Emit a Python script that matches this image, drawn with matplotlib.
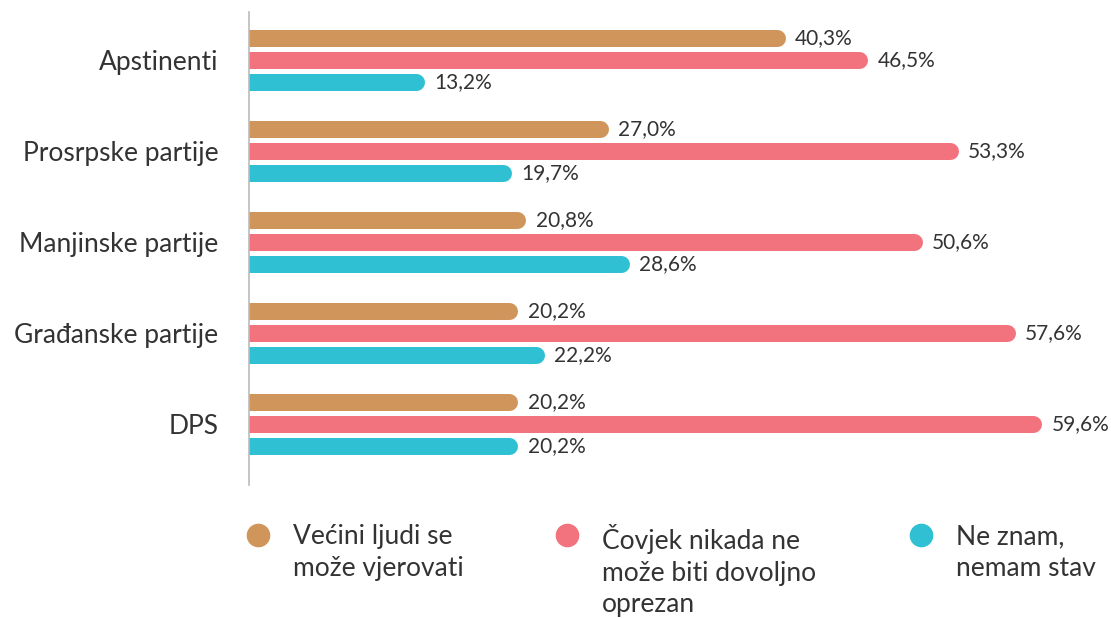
import matplotlib
matplotlib.use('Agg')
import matplotlib.pyplot as plt
from matplotlib.lines import Line2D
import numpy as np

plt.rcParams['font.family'] = ['Lato', 'DejaVu Sans']

# Data
categories = ['Apstinenti', 'Prosrpske partije', 'Manjinske partije', 'Građanske partije', 'DPS']
series_names = ['Većini ljudi se\nmože vjerovati',
                'Čovjek nikada ne\nmože biti dovoljno\noprezan',
                'Ne znam,\nnemam stav']
trust = [40.3, 27.0, 20.8, 20.2, 20.2]
careful = [46.5, 53.3, 50.6, 57.6, 59.6]
dont_know = [13.2, 19.7, 28.6, 22.2, 20.2]
colors = ['#D0955A', '#F2737E', '#2FC1D3']
text_col = '#333333'

W, H = 1111, 618
fig = plt.figure(figsize=(W / 100, H / 100), dpi=100)
ax = fig.add_axes([249 / W, 1 - 485 / H, 1 - 249 / W, (485 - 12) / H])

xmax = 64.8
px_per_unit = (W - 249) / xmax
bar_px = 17
cap = (bar_px / 2) / px_per_unit  # round cap radius in data units
offsets = [-0.245, 0.0, 0.245]

y = np.arange(len(categories))
for vals, off, col in zip([trust, careful, dont_know], offsets, colors):
    for yi, v in zip(y, vals):
        ax.plot([-5, v - cap], [yi + off, yi + off], color=col,
                lw=bar_px * 0.72, solid_capstyle='round')
        ax.text(v + 10 / px_per_unit, yi + off, f'{v:.1f}'.replace('.', ',') + '%',
                va='center', ha='left', fontsize=15, color=text_col, clip_on=False)

ax.set_xlim(0, xmax)
ax.set_ylim(len(categories) - 1 + 0.67, -0.53)
ax.set_yticks(y)
ax.set_yticklabels(categories, fontsize=19, color=text_col)
ax.tick_params(axis='y', length=0, pad=22)
ax.set_xticks([])
for s in ['top', 'right', 'bottom']:
    ax.spines[s].set_visible(False)
ax.spines['left'].set_color('#bbbbbb')
ax.spines['left'].set_linewidth(1.2)

# Legend drawn manually
leg_x = [258, 567, 921]
for lx, name, col in zip(leg_x, series_names, colors):
    fig.add_artist(Line2D([lx / W], [1 - 535 / H], marker='o', markersize=16,
                          color=col, transform=fig.transFigure))
    fig.text((lx + 35) / W, 1 - 524 / H, name, ha='left', va='top',
             fontsize=19, color=text_col, linespacing=1.33)

fig.savefig('out.png', dpi=100)
